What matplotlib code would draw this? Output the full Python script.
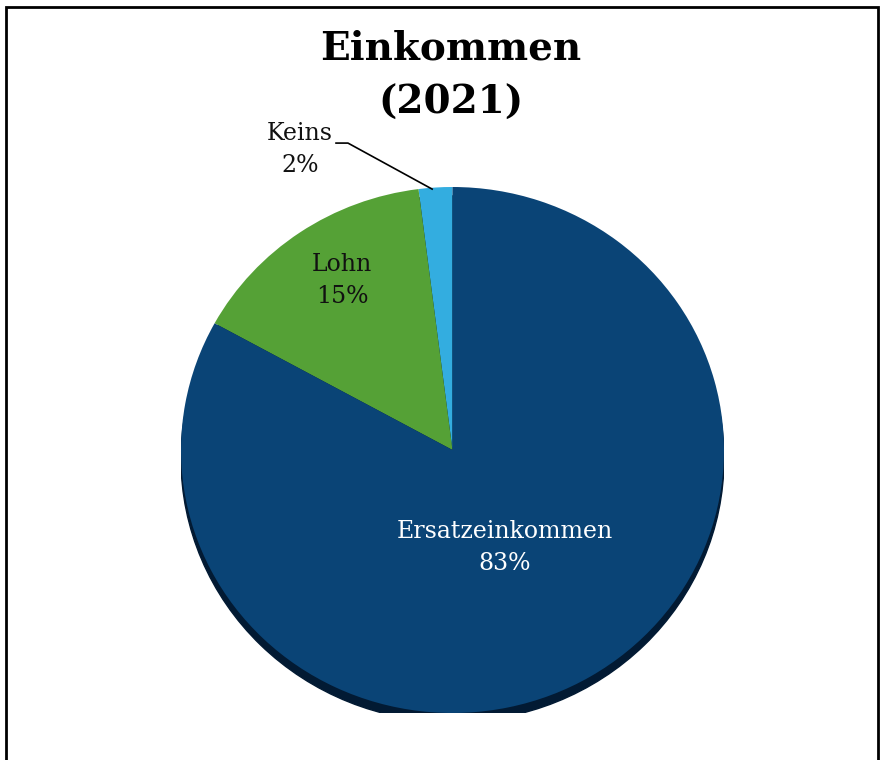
import matplotlib.pyplot as plt
from matplotlib.patches import Ellipse, Rectangle

categories = ["Keins", "Lohn", "Ersatzeinkommen"]
values = [2, 15, 83]
colors = ["#33ade0", "#55a136", "#0a4476"]
title = "Einkommen\n(2021)"

fig = plt.figure(figsize=(8.85, 7.6), dpi=100)
ax = fig.add_axes([181 / 885, 47 / 760, 543 / 885, 526 / 760])

# shadow below the pie
ax.add_patch(Ellipse((0, -0.034), 2.0, 2.0, color="#021a33", zorder=0))
wedges, _ = ax.pie(values, colors=colors, startangle=90, counterclock=True,
                   radius=1.0, wedgeprops=dict(linewidth=0, zorder=1))
ax.set_aspect("auto")
ax.set_xlim(-1, 1)
ax.set_ylim(-1, 1)
ax.axis("off")

lab_font = "DejaVu Serif"
kw = dict(ha="center", va="center", fontsize=17, family=lab_font, linespacing=1.5, clip_on=False)
ax.text(0.193, -0.369, "%s\n%d%%" % (categories[2], values[2]), color="white", **kw)
ax.text(-0.407, 0.646, "%s\n%d%%" % (categories[1], values[1]), color="#111111", **kw)
ax.text(-0.562, 1.141, "%s\n%d%%" % (categories[0], values[0]), color="#111111", **kw)
ax.plot([-0.429, -0.385, -0.075], [1.167, 1.167, 0.992], color="black", lw=1.2, clip_on=False)

fig.text(451 / 885, 1 - 76 / 760, title, ha="center", va="center", fontsize=28,
         fontweight="bold", family="DejaVu Serif", linespacing=1.55)

fig.add_artist(Rectangle((6 / 885, -0.1), 872 / 885, 0.1 + 753 / 760, fill=False,
                         lw=2, edgecolor="black", transform=fig.transFigure))

plt.savefig("out.png", dpi=100)
